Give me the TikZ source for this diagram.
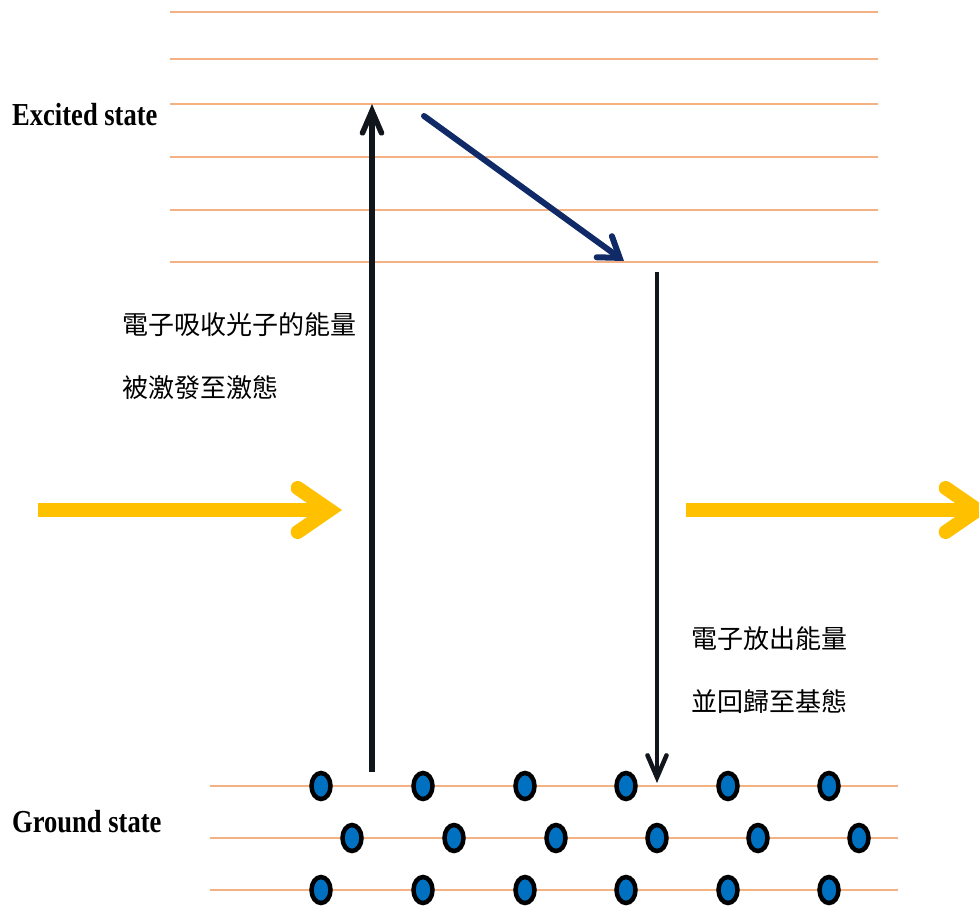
\documentclass[tikz,border=0pt]{standalone}
\usepackage{graphicx}
\usepackage{fontspec}
\setmainfont{Liberation Serif}
\newfontfamily\cjk{Noto Sans CJK TC}
\usetikzlibrary{arrows.meta,shapes.geometric}
\definecolor{lvl}{HTML}{F4B183}
\definecolor{dotblue}{HTML}{0070C0}
\definecolor{photon}{HTML}{FFC000}
\definecolor{navyarrow}{HTML}{0F2A66}
\definecolor{darkarrow}{HTML}{10161C}
\tikzset{
  level/.style={draw=lvl, line width=2.2pt},
  dotnode/.style={ellipse, draw=black, line width=4.5pt, fill=dotblue, minimum width=19pt, minimum height=26pt, inner sep=0pt},
  statelabel/.style={anchor=base west, inner sep=0pt, font=\fontsize{32}{32}\selectfont\bfseries},
  cjklabel/.style={anchor=west, inner sep=0pt, font=\cjk\fontsize{26}{26}\selectfont},
  photonarrow/.style={draw=photon, line width=14pt, -{Straight Barb[length=32pt, width=44pt, line cap=round, line join=miter]}},
  transarrow/.style={line width=5.5pt, -{Straight Barb[length=22pt, width=19pt, line cap=round, line join=miter]}},
}
\begin{document}
\begin{tikzpicture}[x=1pt,y=-1pt]
\useasboundingbox (0,0) rectangle (979,913);

% excited levels
\foreach \yy in {12,59,104,157,210,262}{
  \draw[level] (170,\yy) -- (878,\yy);
}
% ground levels
\foreach \yy in {786,838,890}{
  \draw[level] (210,\yy) -- (898,\yy);
}

% state labels
\node[statelabel] (exc) at (12,125) {\scalebox{0.83}[1]{Excited state}};
\node[statelabel] (gnd) at (12,832) {\scalebox{0.83}[1]{Ground state}};

% Chinese labels
\node[cjklabel] (abs1) at (122,325) {電子吸收光子的能量};
\node[cjklabel] (abs2) at (122,388) {被激發至激態};
\node[cjklabel] (emi1) at (691,639) {電子放出能量};
\node[cjklabel] (emi2) at (691,702) {並回歸至基態};

% electrons
\foreach \xx [count=\i] in {321,423,525,626,728,829}{
  \node[dotnode] (a\i) at (\xx,786) {};
  \node[dotnode] (c\i) at (\xx,890) {};
}
\foreach \xx [count=\i] in {352,454,556,657,758,859}{
  \node[dotnode] (b\i) at (\xx,838) {};
}

% transition coordinates
\coordinate (upS) at (372,772);
\coordinate (upE) at (372,104);
\coordinate (diS) at (424,116);
\coordinate (diE) at (624,261);
\coordinate (dnS) at (657,272);
\coordinate (dnE) at (657,783);
\coordinate (p1S) at (38,510);
\coordinate (p1E) at (342,510);
\coordinate (p2S) at (686,510);
\coordinate (p2E) at (990,510);

% arrows
\draw[darkarrow, transarrow] (upS) -- (upE);
\draw[navyarrow, line width=6pt, line cap=round, -{Straight Barb[length=19pt, width=26pt, line cap=round, line join=miter]}] (diS) -- (diE);
\draw[darkarrow, transarrow, line width=4.5pt] (dnS) -- (dnE);

% photons
\draw[photonarrow] (p1S) -- (p1E);
\draw[photonarrow] (p2S) -- (p2E);
\end{tikzpicture}
\end{document}
